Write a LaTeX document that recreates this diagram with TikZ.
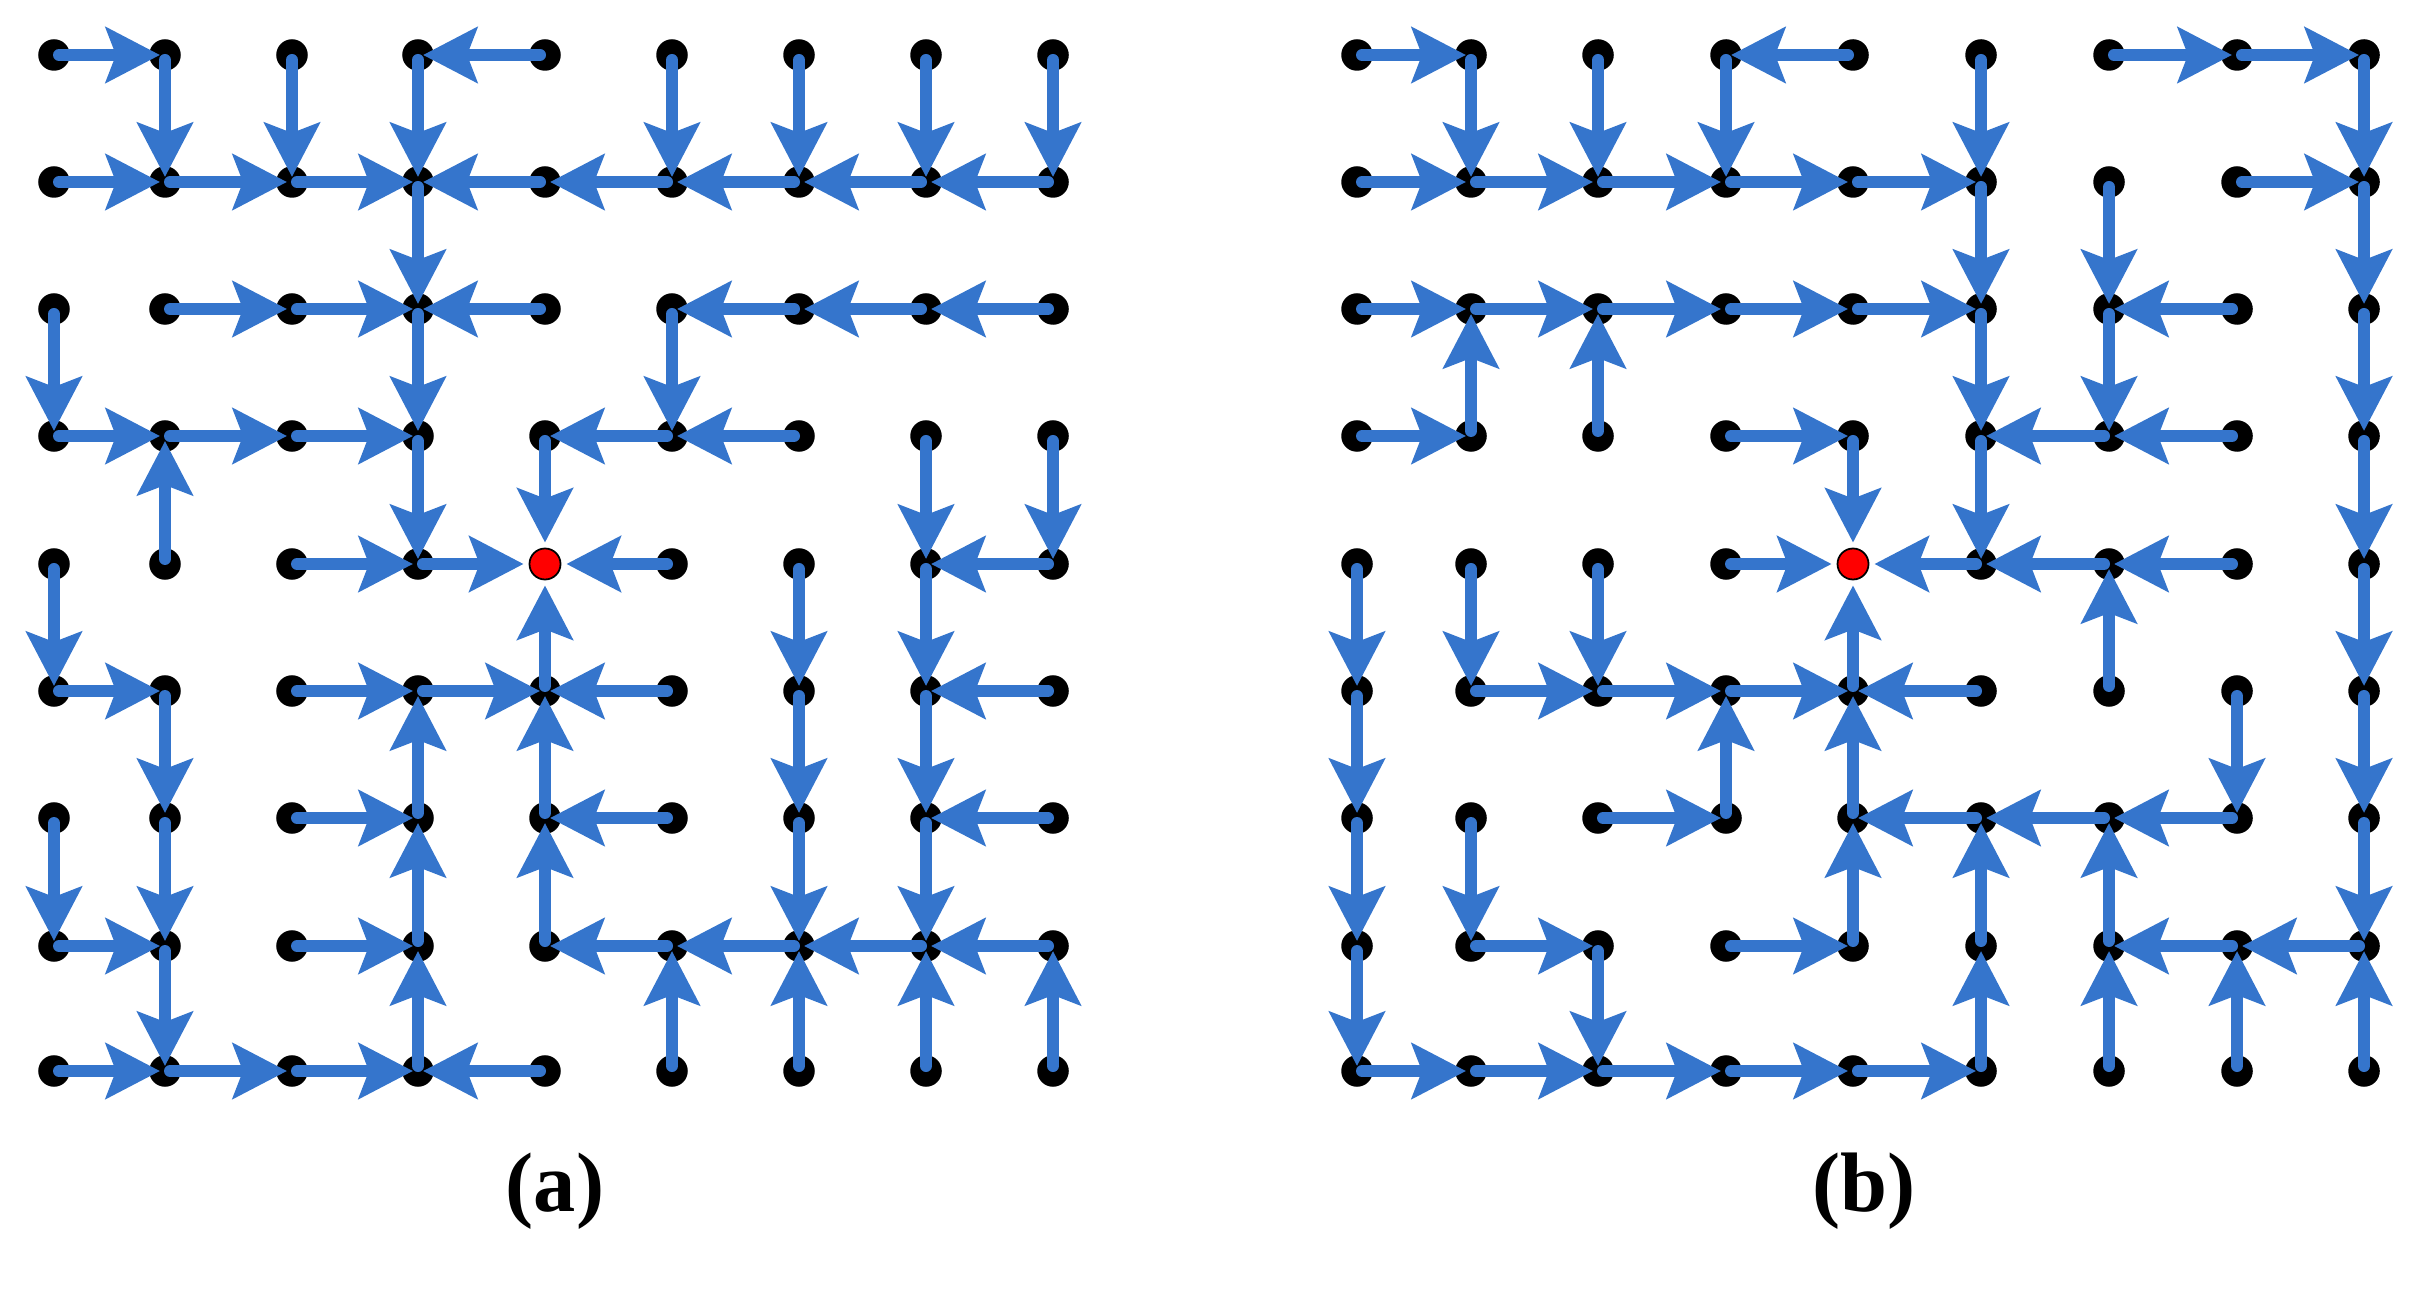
\documentclass[tikz,border=0pt]{standalone}
\usepackage{fontspec}
\setmainfont{Liberation Serif}
\usepackage{tikz}
\usetikzlibrary{arrows.meta}
\definecolor{flowblue}{RGB}{53,117,204}

\begin{document}
\begin{tikzpicture}[x=0.01cm,y=-0.01cm,
  dot/.style={circle,fill=black,inner sep=0pt,minimum size=0.315cm},
  rootdot/.style={circle,fill=red,draw=black,line width=0.5pt,inner sep=0pt,minimum size=0.31cm},
  flow/.style={draw=flowblue,line width=0.12cm,line cap=round,
    -{Stealth[length=0.54cm,width=0.55cm,inset=0.1cm]},shorten <=0.05cm,shorten >=0.05cm},
  caption/.style={font=\bfseries\fontsize{24}{28}\selectfont,inner sep=0pt}]
\useasboundingbox (0,0) rectangle (2419,1292);
% grid points
\foreach \x [count=\c from 0] in {54,165,292,418,545,672,799,926,1053}
  \foreach \y [count=\r from 0] in {55,182,309,436,564,691,818,946,1071}{
    \node[dot] (a-\c-\r) at (\x,\y) {};
  }
\foreach \x [count=\c from 0] in {1357,1471,1598,1726,1853,1981,2109,2237,2364}
  \foreach \y [count=\r from 0] in {55,182,309,436,564,691,818,946,1071}{
    \node[dot] (b-\c-\r) at (\x,\y) {};
  }
% (a): right, left, down, up
\foreach \c/\r in {0/0,0/1,1/1,2/1,1/2,2/2,0/3,1/3,2/3,2/4,0/5,2/5,3/5,2/6,0/7,2/7,0/8,1/8,2/8}{
  \pgfmathtruncatemacro\n{\c+1}
  \draw[flow] (a-\c-\r.center) -- (a-\n-\r.center);
}
\foreach \c/\r in {4/0,4/1,5/1,6/1,7/1,8/1,4/2,6/2,7/2,8/2,5/3,6/3,8/4,5/5,8/5,5/6,8/6,5/7,6/7,7/7,8/7,4/8}{
  \pgfmathtruncatemacro\n{\c-1}
  \draw[flow] (a-\c-\r.center) -- (a-\n-\r.center);
}
\foreach \c/\r in {1/0,2/0,3/0,5/0,6/0,7/0,8/0,3/1,0/2,3/2,5/2,3/3,7/3,8/3,0/4,6/4,7/4,1/5,6/5,7/5,0/6,1/6,6/6,7/6,1/7}{
  \pgfmathtruncatemacro\n{\r+1}
  \draw[flow] (a-\c-\r.center) -- (a-\c-\n.center);
}
\foreach \c/\r in {1/4,3/6,4/6,3/7,4/7,3/8,5/8,6/8,7/8,8/8}{
  \pgfmathtruncatemacro\n{\r-1}
  \draw[flow] (a-\c-\r.center) -- (a-\c-\n.center);
}
% (b): right, left, down, up
\foreach \c/\r in {0/0,6/0,7/0,0/1,1/1,2/1,3/1,4/1,7/1,0/2,1/2,2/2,3/2,4/2,0/3,3/3,1/5,2/5,3/5,2/6,1/7,3/7,0/8,1/8,2/8,3/8,4/8}{
  \pgfmathtruncatemacro\n{\c+1}
  \draw[flow] (b-\c-\r.center) -- (b-\n-\r.center);
}
\foreach \c/\r in {4/0,7/2,6/3,7/3,6/4,7/4,5/5,5/6,6/6,7/6,7/7,8/7}{
  \pgfmathtruncatemacro\n{\c-1}
  \draw[flow] (b-\c-\r.center) -- (b-\n-\r.center);
}
\foreach \c/\r in {1/0,2/0,3/0,5/0,8/0,5/1,6/1,8/1,5/2,6/2,8/2,5/3,8/3,0/4,1/4,2/4,8/4,0/5,7/5,8/5,0/6,1/6,8/6,0/7,2/7}{
  \pgfmathtruncatemacro\n{\r+1}
  \draw[flow] (b-\c-\r.center) -- (b-\c-\n.center);
}
\foreach \c/\r in {1/3,2/3,6/5,3/6,4/6,4/7,5/7,6/7,5/8,6/8,7/8,8/8}{
  \pgfmathtruncatemacro\n{\r-1}
  \draw[flow] (b-\c-\r.center) -- (b-\c-\n.center);
}
% roots
\foreach \g in {a,b}{
  \node[rootdot] (\g-root) at (\g-4-4) {};
  \foreach \s in {3-4,5-4,4-3,4-5}
    \draw[flow] (\g-\s.center) -- (\g-root);
}
\node[caption] (cap-a) at (555,1191) {(a)};
\node[caption] (cap-b) at (1864,1191) {(b)};
\end{tikzpicture}
\end{document}
